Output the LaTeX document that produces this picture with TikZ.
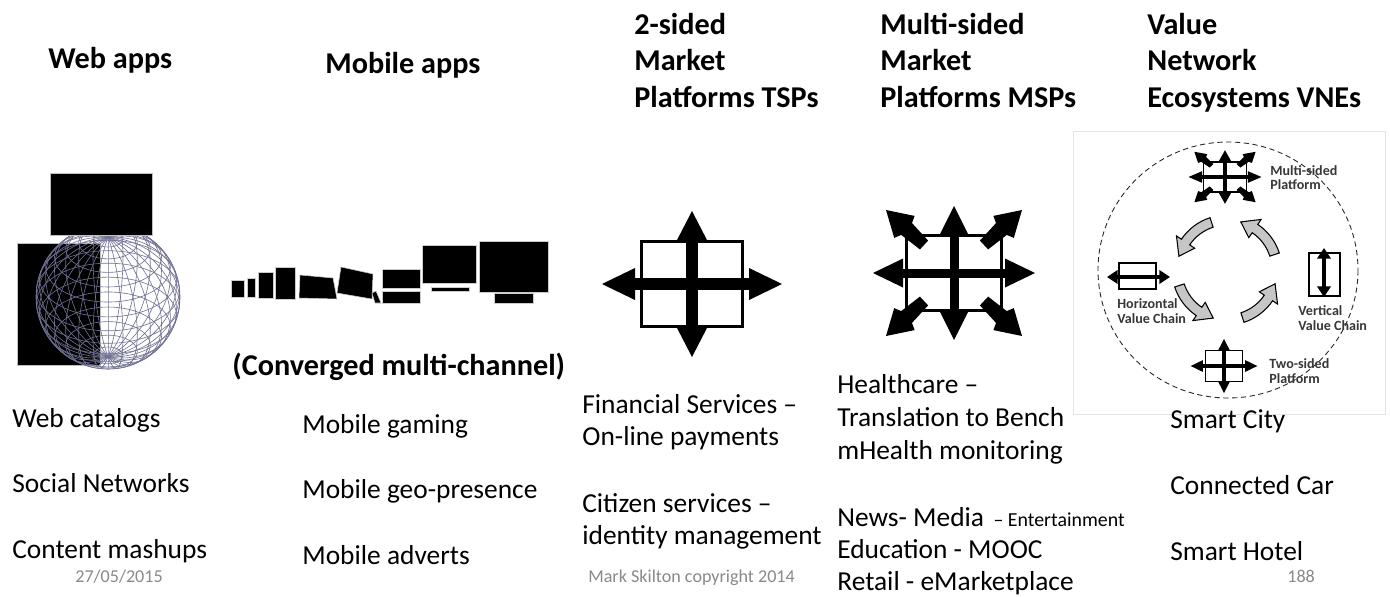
\documentclass[tikz,border=0pt]{standalone}
\usepackage{fontspec}
\setmainfont{Carlito}
\usetikzlibrary{positioning}
\usetikzlibrary{arrows.meta}
\definecolor{footgray}{RGB}{137,137,137}
\definecolor{globeline}{RGB}{112,112,146}
\definecolor{lblgray}{RGB}{55,55,55}
\definecolor{panelline}{RGB}{228,228,228}
\tikzset{
 txt/.style={anchor=base west, inner sep=0, font=\fontsize{15.6}{18.5}\selectfont},
 ttl/.style={anchor=base west, inner sep=0, font=\fontsize{17.2}{21}\selectfont\bfseries},
 sml/.style={inner sep=0, font=\fontsize{11.3}{13}\selectfont},
 foot/.style={anchor=base west, inner sep=0, text=footgray, font=\fontsize{10.3}{12}\selectfont},
 lbl/.style={anchor=base west, inner sep=0, text=lblgray, font=\fontsize{8}{9}\selectfont\bfseries},
 device/.style={fill=black, draw=gray!40, line width=.3pt},
 globe/.style={globeline, line width=.35pt},
 turn/.style={fill=gray!45, draw=black, line width=.6pt},
 tsp/.pic={
  \fill (-52,-44) rectangle (52,44);
  \fill[white] (-49,-41) rectangle (49,41);
  \fill (-6,-45) rectangle (6,45);
  \fill (-60,-6) rectangle (60,6);
  \fill (0,-73) -- (16,-42) -- (-16,-42) -- cycle;
  \fill (0,73) -- (16,42) -- (-16,42) -- cycle;
  \fill (-90,0) -- (-57,16) -- (-57,-16) -- cycle;
  \fill (90,0) -- (57,16) -- (57,-16) -- cycle;
 },
 msp/.pic={
  \fill (-49,-39) rectangle (49,39);
  \fill[white] (-46,-36) rectangle (46,36);
  \fill (-4.5,-40) rectangle (4.5,40);
  \fill (-52,-4.5) rectangle (52,4.5);
  \fill (0,-67) -- (14,-39) -- (-14,-39) -- cycle;
  \fill (0,67) -- (14,39) -- (-14,39) -- cycle;
  \fill (-81,0) -- (-51,14.5) -- (-51,-14.5) -- cycle;
  \fill (81,0) -- (51,14.5) -- (51,-14.5) -- cycle;
  \foreach \sx/\sy in {1/1,-1/1,1/-1,-1/-1}
   \fill[xscale=\sx,yscale=\sy] (-68,-63) -- (-59.8,-35.1) -- (-52.8,-38.1) -- (-34.1,-23.6)
    -- (-25.9,-32.4) -- (-42,-49.9) -- (-39.4,-57.1) -- cycle;
 }
}

\begin{document}
\begin{tikzpicture}[x=0.02cm,y=-0.02cm]
\useasboundingbox (0,0) rectangle (1390,596);

\node[ttl] (webttl) at (48,68) {Web apps};
\node[ttl] (mobttl) at (325,73) {Mobile apps};
\node[ttl] (tsp1) at (634,34) {2-sided};
\node[ttl] (tsp2) at (634,70) {Market};
\node[ttl] (tsp3) at (634,107) {Platforms TSPs};
\node[ttl] (msp1) at (880,34) {Multi-sided};
\node[ttl] (msp2) at (880,70) {Market};
\node[ttl] (msp3) at (880,107) {Platforms MSPs};
\node[ttl] (vne1) at (1147,34) {Value};
\node[ttl] (vne2) at (1147,70) {Network};
\node[ttl] (vne3) at (1147,107) {Ecosystems VNEs};

% globe behind two browser windows
\fill[black, draw=gray!50, line width=.3pt] (17,243) rectangle (100,365);
\begin{scope}[shift={(108,297)}]
\foreach \lon in {0,12,...,168}
 \draw[globe] plot[domain=0:360, samples=61, smooth] ({72*cos(\x)*sin(\lon)},{-72*(sin(\x)*cos(34)-cos(\x)*cos(\lon)*sin(34))});
\foreach \lat in {-78,-66,...,78}
 \draw[globe] (0,{-72*sin(\lat)*cos(34)}) ellipse ({72*cos(\lat)} and {72*cos(\lat)*sin(34)});
\draw[globe] (0,0) circle (72);
\end{scope}
\fill[black, draw=gray!50, line width=.3pt] (50,173) rectangle (152,235);

% phones, tablets, laptop, screens
\fill[device] (231,280) rectangle (244,297);
\fill[device] (247,278) rectangle (255,297);
\fill[device] (258,272) rectangle (273,298);
\fill[device] (275,267) rectangle (295,299);
\fill[device] (300,275) -- (333,278) -- (337,299) -- (299,298) -- cycle;
\fill[device] (341,267) -- (373,274) -- (372,299) -- (337,293) -- cycle;
\fill[device] (372,293) -- (376,291) -- (381,303) -- (375,303) -- cycle;
\fill[device] (382,269) rectangle (420,288);
\fill[device] (382,291) rectangle (420,303);
\fill[device] (422,245) rectangle (476,283);
\fill[device] (431,287) rectangle (469,291);
\fill[device] (479,241) rectangle (548,292);
\fill[device] (494,293) rectangle (533,303);

\pic (tspicon) at (692,284) {tsp};
\pic (mspicon) at (954,273) {msp};

% value network panel
\draw[panelline] (1073,131) rectangle (1385,414);
\draw[gray!30!black, line width=.5pt, dash pattern=on 3pt off 2pt] (1228,270) ellipse (130 and 128);
\pic[xscale=.45, yscale=.4] (vnemsp) at (1225,177) {msp};
\pic[scale=.37] (vnetsp) at (1224,366) {tsp};
\draw[fill=white, line width=.6pt] (1119,263) rectangle (1156,289);
\draw[line width=2.2pt, <->, >={Triangle[length=6pt,width=7.5pt]}] (1107,277) -- (1170,277);
\draw[fill=white, line width=.6pt] (1309,253) rectangle (1340,296);
\draw[line width=2.2pt, <->, >={Triangle[length=6pt,width=7.5pt]}] (1324,248) -- (1324,297);
\begin{scope}[shift={(1227,270)}, yscale=-1]
\foreach \a in {18,108,198,288}
 \draw[turn] (\a:55) arc[start angle=\a, end angle=\a+38, radius=55] -- (\a+38:61) -- (\a+56:50) -- (\a+38:39) -- (\a+38:45) arc[start angle=\a+38, end angle=\a, radius=45] -- cycle;
\end{scope}
\node[lbl] (mspl1) at (1270,175) {Multi-sided};
\node[lbl] (mspl2) at (1270,189) {Platform};
\node[lbl] (hvc1) at (1117,308) {Horizontal};
\node[lbl] (hvc2) at (1117,323) {Value Chain};
\node[lbl] (vvc1) at (1298,315) {Vertical};
\node[lbl] (vvc2) at (1298,330) {Value Chain};
\node[lbl] (tspl1) at (1269,368) {Two-sided};
\node[lbl] (tspl2) at (1269,383) {Platform};

\node[ttl] (conv) at (232,375) {(Converged multi-channel)};

\node[txt] (web1) at (12,427) {Web catalogs};
\node[txt] (web2) at (12,492) {Social Networks};
\node[txt] (web3) at (12,558) {Content mashups};
\node[txt] (mob1) at (302,433) {Mobile gaming};
\node[txt] (mob2) at (302,498) {Mobile geo-presence};
\node[txt] (mob3) at (302,564) {Mobile adverts};
\node[txt] (fin1) at (582,413) {Financial Services –};
\node[txt] (fin2) at (582,445) {On-line payments};
\node[txt] (cit1) at (582,512) {Citizen services –};
\node[txt] (cit2) at (582,544) {identity management};
\node[txt] (health1) at (837,393) {Healthcare –};
\node[txt] (health2) at (837,426) {Translation to Bench};
\node[txt] (health3) at (837,459) {mHealth monitoring};
\node[txt] (news) at (837,526) {News- Media};
\node[sml, base right=5pt of news] (ent) {– Entertainment};
\node[txt] (edu) at (837,558) {Education - MOOC};
\node[txt] (retail) at (837,590) {Retail - eMarketplace};
\node[txt] (city) at (1170,428) {Smart City};
\node[txt] (car) at (1170,494) {Connected Car};
\node[txt] (hotel) at (1170,560) {Smart Hotel};

\node[foot] (date) at (75,582) {27/05/2015};
\node[foot] (copy) at (588,582) {Mark Skilton copyright 2014};
\node[foot] (page) at (1287,582) {188};
\end{tikzpicture}
\end{document}
